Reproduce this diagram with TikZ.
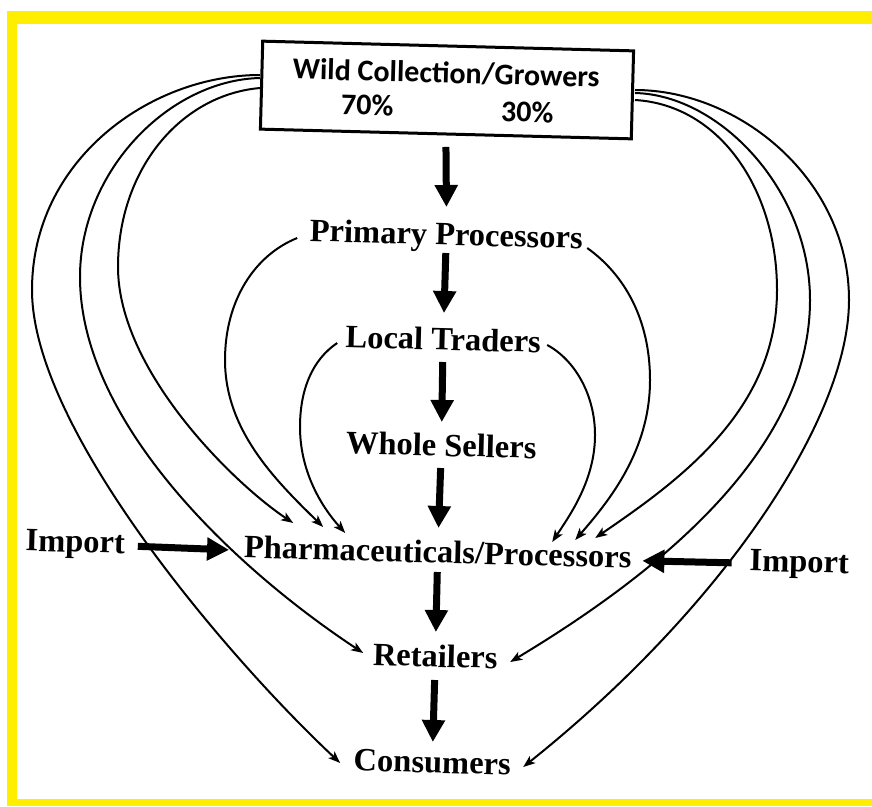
\documentclass[tikz,border=0pt]{standalone}
\usepackage{fontspec}
\setmainfont{Liberation Serif}
\newfontfamily\boxfont{Carlito}
\usetikzlibrary{arrows.meta,calc}
\definecolor{frameyellow}{RGB}{255,238,0}
\begin{document}
\begin{tikzpicture}[x=1pt,y=-1pt,
  lbl/.style={font=\fontsize{32.5}{36}\selectfont\bfseries, inner sep=0pt, outer sep=0pt,
              text height=22pt, text depth=7pt, anchor=base, rotate=-1.5},
  boxtxt/.style={font=\boxfont\bfseries\fontsize{30}{33}\selectfont, inner sep=0pt, anchor=base, rotate=-1.5},
  srcbox/.style={draw, line width=3pt, minimum width=371pt, minimum height=88pt, inner sep=0pt, outer sep=0pt, rotate=-1.5},
  bigarrow/.style={line width=7pt, -{Triangle[length=22pt,width=22pt]}},
  thinarrow/.style={line width=2pt, -{Stealth[length=12pt,width=9pt,inset=3pt]}}
]
\useasboundingbox (0,0) rectangle (872,806);
% yellow frame
\fill[frameyellow] (7,11) rectangle (872,24);
\fill[frameyellow] (7,11) rectangle (17,806);
\fill[frameyellow] (7,799) rectangle (872,806);

% nodes
\node[srcbox] (src) at (447,90) {};
\node[boxtxt] (title) at (446,83) {Wild Collection/Growers};
\node[boxtxt] (p70) at (367,115) {70\%};
\node[boxtxt] (p30) at (527,122) {30\%};

\node[lbl] (pp) at (446,245) {Primary Processors};
\node[lbl] (lt) at (443,350) {Local Traders};
\node[lbl] (ws) at (441,456) {Whole Sellers};
\node[lbl] (ph) at (437.5,563) {Pharmaceuticals/Processors};
\node[lbl] (rt) at (435,667) {Retailers};
\node[lbl] (cs) at (432,773) {Consumers};
\node[lbl] (imL) at (75,552) {Import};
\node[lbl] (imR) at (799,572) {Import};

% main chain
\draw[bigarrow, shorten <=13pt, shorten >=16pt] (src.south) -- (pp.north);
\draw[bigarrow, shorten <=1pt, shorten >=15pt] (pp.south) -- (lt.north);
\draw[bigarrow, shorten <=5pt, shorten >=12pt] (lt.south) -- (ws.north);
\draw[bigarrow, shorten <=5pt, shorten >=13pt] (ws.south) -- (ph.north);
\draw[bigarrow, shorten <=2pt, shorten >=13pt] (ph.south) -- (rt.north);
\draw[bigarrow, shorten <=6pt, shorten >=9pt] (rt.south) -- (cs.north);

% imports
\draw[bigarrow, shorten <=13pt, shorten >=15pt] (imL.east) -- (ph.west);
\draw[bigarrow, shorten <=18pt, shorten >=11pt] (imR.west) -- (ph.east);

% left curves
\draw[thinarrow] ($(src)+(-187,-15)$) .. controls (150,75) and (32,160) .. (32,290)
   .. controls (32,430) and (230,660) .. ($(cs)+(-92,-2.5)$);
\draw[thinarrow] ($(src)+(-187,-12)$) .. controls (170,80) and (80,170) .. (80,277)
   .. controls (80,420) and (230,565) .. ($(rt)+(-72,-6.5)$);
\draw[thinarrow] ($(src)+(-187,-2)$) .. controls (180,95) and (118,170) .. (118,267)
   .. controls (118,370) and (233,483) .. ($(ph)+(-144.5,-32.5)$);
\draw[thinarrow] ($(pp)+(-149,0.5)$) .. controls (255,255) and (225,300) .. (225,360)
   .. controls (225,430) and (275,480) .. ($(ph)+(-114.5,-28.5)$);
\draw[thinarrow] ($(lt)+(-106,0.5)$) .. controls (312,360) and (300,390) .. (300,427)
   .. controls (300,470) and (320,505) .. ($(ph)+(-92.5,-22.5)$);

% right curves
\draw[thinarrow] ($(src)+(188,0)$) .. controls (740,90) and (849,180) .. (849,300)
   .. controls (849,420) and (720,610) .. ($(cs)+(91,1.5)$);
\draw[thinarrow] ($(src)+(188,3)$) .. controls (720,95) and (810,190) .. (810,300)
   .. controls (810,440) and (680,560) .. ($(rt)+(75,2.5)$);
\draw[thinarrow] ($(src)+(188,10)$) .. controls (720,105) and (777,190) .. (777,290)
   .. controls (777,410) and (680,480) .. ($(ph)+(157.5,-17.5)$);
\draw[thinarrow] ($(pp)+(141,10.5)$) .. controls (625,275) and (650,320) .. (650,380)
   .. controls (650,450) and (610,500) .. ($(ph)+(137.5,-15.5)$);
\draw[thinarrow] ($(lt)+(104,2.5)$) .. controls (575,360) and (595,395) .. (595,435)
   .. controls (595,480) and (570,515) .. ($(ph)+(114.5,-13.5)$);
\end{tikzpicture}
\end{document}
